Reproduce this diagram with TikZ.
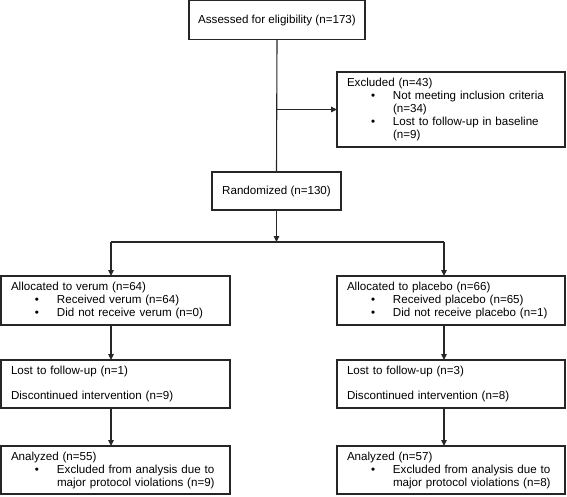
\documentclass[tikz,border=0pt]{standalone}
\usepackage{fontspec}
\setmainfont{Liberation Sans}
\usetikzlibrary{arrows.meta,calc}
\newcommand\fs{\fontsize{11.6}{13}\selectfont}
\newcommand\itm[1]{\hspace*{24pt}\makebox[22pt][l]{\textbullet}#1}
\newcommand\cnt[1]{\hspace*{46pt}#1}
\begin{document}
\begin{tikzpicture}[x=1pt,y=-1pt,
  box/.style={draw=black!85, line width=1.1pt, outer sep=0pt, anchor=north west, font=\fs},
  cbox/.style={box, align=center, inner sep=0pt},
  lbox/.style={box, align=left, inner xsep=10pt, inner ysep=0pt},
  conn/.style={draw=black!85, line width=1.1pt},
  arr/.style={conn, -{Triangle[length=6pt,width=5.5pt]}}
]
\useasboundingbox (0,0) rectangle (567,496);
\node[cbox, minimum width=176pt, minimum height=39pt] (top) at (189,0.6) {Assessed for eligibility (n=173)};
\node[lbox, text width=208pt, minimum height=75pt] (excl) at (337,72) {Excluded (n=43)\\
\itm{Not meeting inclusion criteria}\\
\cnt{(n=34)}\\
\itm{Lost to follow-up in baseline}\\
\cnt{(n=9)}};
\node[cbox, minimum width=129pt, minimum height=38pt] (rand) at (212,172) {Randomized (n=130)};
\node[lbox, text width=209pt, minimum height=49pt] (allocv) at (1,276) {Allocated to verum (n=64)\\
\itm{Received verum (n=64)}\\
\itm{Did not receive verum (n=0)}};
\node[lbox, text width=208pt, minimum height=49pt] (allocp) at (337,276) {Allocated to placebo (n=66)\\
\itm{Received placebo (n=65)}\\
\itm{Did not receive placebo (n=1)}};
\node[lbox, text width=209pt, minimum height=48pt] (lostv) at (1,360) {Lost to follow-up (n=1)\\[12pt]
Discontinued intervention (n=9)};
\node[lbox, text width=208pt, minimum height=48pt] (lostp) at (337,360) {Lost to follow-up (n=3)\\[12pt]
Discontinued intervention (n=8)};
\node[lbox, text width=209pt, minimum height=48pt] (anav) at (1,446) {Analyzed (n=55)\\
\itm{Excluded from analysis due to}\\
\cnt{major protocol violations (n=9)}};
\node[lbox, text width=208pt, minimum height=48pt] (anap) at (337,446) {Analyzed (n=57)\\
\itm{Excluded from analysis due to}\\
\cnt{major protocol violations (n=8)}};
\coordinate (bl) at (111,242);
\coordinate (br) at (444,242);
\coordinate (bm) at (rand.south |- bl);
\coordinate (ex) at (top.south |- excl.west);
\draw[conn] (top.south) -- (rand.north);
\draw[arr] (ex) -- (excl.west);
\draw[arr] (rand.south) -- (bm);
\draw[conn] (bl) -- (br);
\draw[arr] (bl) -- (bl |- allocv.north);
\draw[arr] (br) -- (br |- allocp.north);
\draw[arr] (bl |- allocv.south) -- (bl |- lostv.north);
\draw[arr] (br |- allocp.south) -- (br |- lostp.north);
\draw[arr] (bl |- lostv.south) -- (bl |- anav.north);
\draw[arr] (br |- lostp.south) -- (br |- anap.north);
\end{tikzpicture}
\end{document}
